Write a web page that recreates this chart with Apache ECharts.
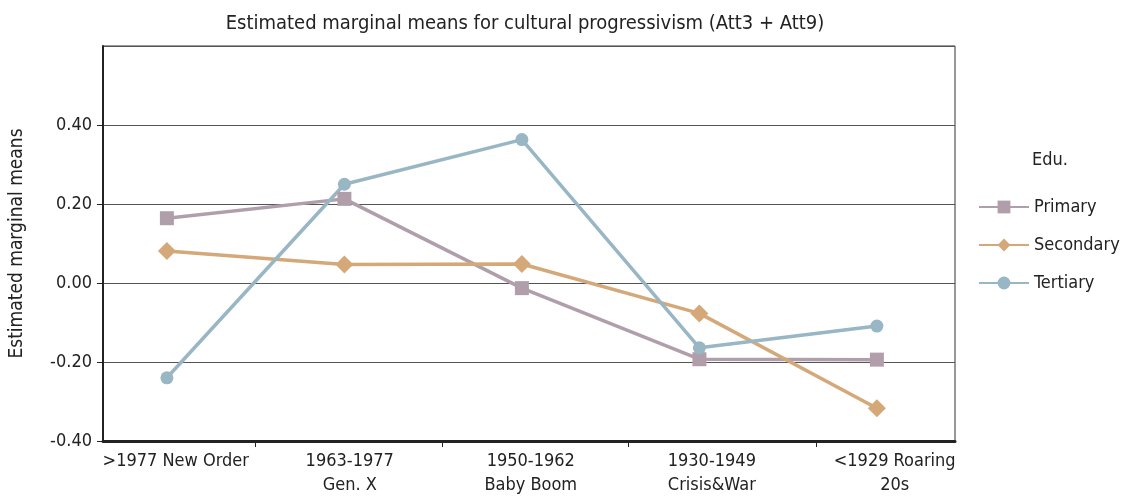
<!DOCTYPE html>
<html>
<head>
<meta charset="utf-8">
<script src="https://cdn.jsdelivr.net/npm/echarts@6/dist/echarts.min.js"></script>
<style>html,body{margin:0;padding:0;background:#fff}#c{width:1121px;height:498px}</style>
</head>
<body>
<div id="c"></div>
<script>
const categories = [">1977 New Order", "1963-1977\nGen. X", "1950-1962\nBaby Boom", "1930-1949\nCrisis&War", "<1929 Roaring\n20s"];
const primary = [0.164, 0.213, -0.013, -0.193, -0.194];
const secondary = [0.081, 0.047, 0.048, -0.077, -0.317];
const tertiary = [-0.240, 0.250, 0.363, -0.164, -0.109];
const yTicks = [-0.4, -0.2, 0, 0.2, 0.4, 0.6];

const FONT = '"Liberation Sans Narrow", "DejaVu Sans Condensed", "Roboto Condensed", sans-serif';
const toPairs = arr => arr.map((v, i) => [i, v]);

const chart = echarts.init(document.getElementById('c'), null, {renderer: 'canvas'});
function mk(name, data, color, symbol, size) {
  return {
    name, type: 'line', data: toPairs(data), symbol, symbolSize: size,
    lineStyle: {color, width: 3.5}, itemStyle: {color}, z: 3
  };
}
chart.setOption({
  animation: false,
  backgroundColor: '#fff',
  title: {
    text: 'Estimated marginal means for cultural progressivism (Att3 + Att9)',
    left: 520, top: 9, textAlign: 'center',
    textStyle: {fontFamily: FONT, fontSize: 20, fontWeight: 'normal', color: '#222'}
  },
  legend: {
    orient: 'vertical', left: 973, top: 193, itemGap: 20,
    itemWidth: 50, itemHeight: 16,
    textStyle: {fontFamily: FONT, fontSize: 18, color: '#222'},
    data: ['Primary', 'Secondary', 'Tertiary']
  },
  graphic: [{
    type: 'text', left: 1032, top: 151,
    style: {text: 'Edu.', font: '18px ' + FONT, fill: '#222'}
  }],
  grid: {left: 98, right: 166, top: 46, bottom: 57, show: true, borderColor: '#333', borderWidth: 1},
  xAxis: {
    type: 'value', min: -0.36, max: 4.44,
    splitLine: {show: false},
    axisLine: {show: true, onZero: false, lineStyle: {color: '#222', width: 3}},
    axisTick: {show: true, length: 6, customValues: [0.5, 1.55, 2.6, 3.66], lineStyle: {color: '#222', width: 1}},
    axisLabel: {
      customValues: [0.05, 1.03, 2.05, 3.07, 4.1],
      formatter: v => categories[Math.round(v)],
      fontFamily: FONT, fontSize: 18, color: '#222', lineHeight: 24, margin: 8
    }
  },
  yAxis: {
    type: 'value', min: -0.4, max: 0.6, interval: 0.2,
    name: 'Estimated marginal means', nameLocation: 'middle', nameGap: 76,
    nameTextStyle: {fontFamily: FONT, fontSize: 19, color: '#222'},
    axisLine: {show: true, onZero: false, lineStyle: {color: '#222', width: 2}},
    axisTick: {show: true, length: 6, lineStyle: {color: '#222'}},
    splitLine: {show: true, lineStyle: {color: '#555', width: 1}},
    axisLabel: {
      showMaxLabel: false,
      formatter: v => (Math.abs(v - 0.6) < 1e-9 ? '' : v.toFixed(2)),
      fontFamily: FONT, fontSize: 18, color: '#222', margin: 11
    }
  },
  series: [
    mk('Primary', primary, '#b09fab', 'rect', 14),
    mk('Secondary', secondary, '#d4a878', 'diamond', 18),
    mk('Tertiary', tertiary, '#98b6c3', 'circle', 13)
  ]
});
</script>
</body>
</html>
